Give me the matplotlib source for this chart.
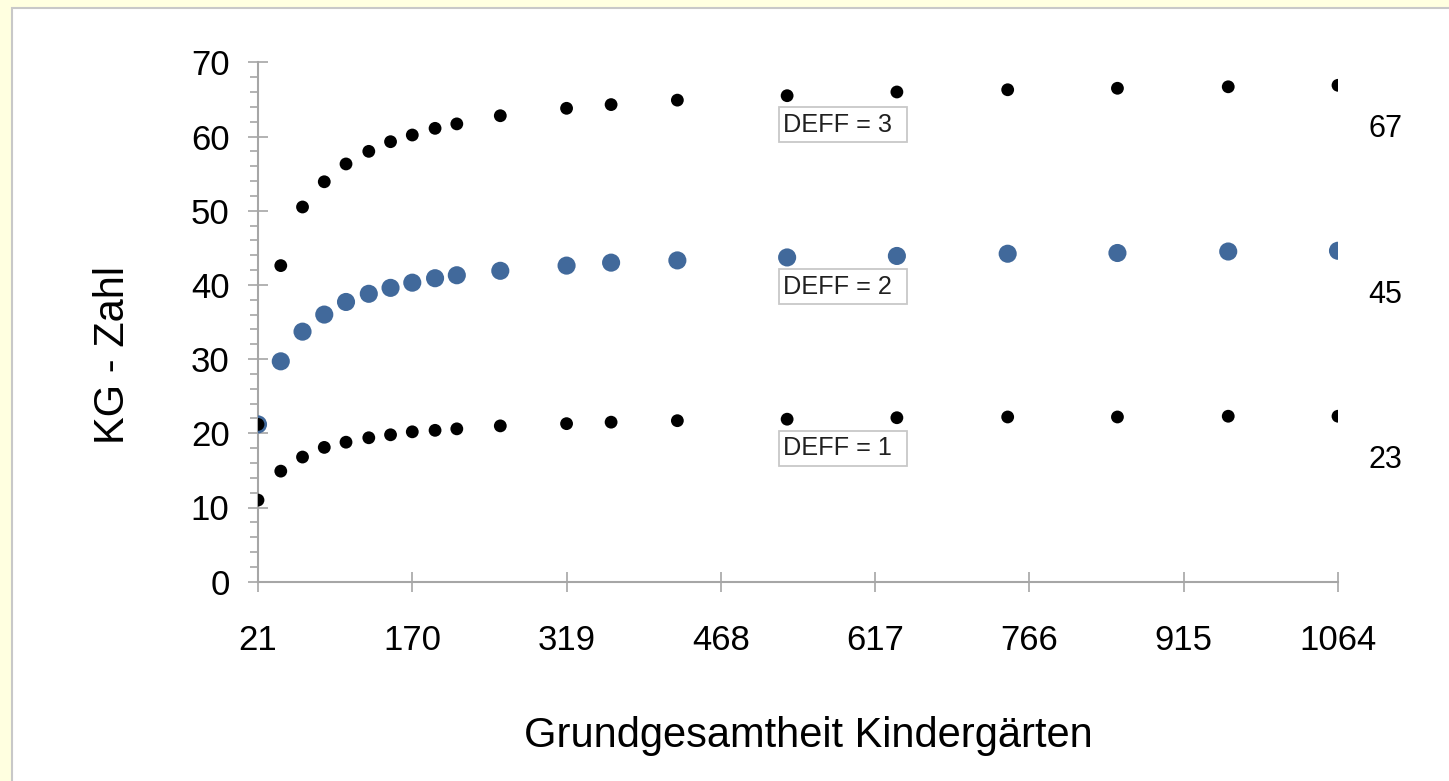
import matplotlib
matplotlib.use("Agg")
import matplotlib.pyplot as plt
from matplotlib.patches import Rectangle
from matplotlib.ticker import MultipleLocator
from matplotlib.transforms import ScaledTranslation

plt.rcParams['font.family'] = ['Liberation Sans', 'DejaVu Sans']

# Grundgesamtheit (x) und KG-Zahl je DEFF
grundgesamtheit = [21, 43, 64, 85, 106, 128, 149, 170, 192, 213,
                   255, 319, 362, 426, 532, 638, 745, 851, 958, 1064]
kg_deff1 = [11.0, 14.9, 16.8, 18.1, 18.8, 19.4, 19.8, 20.2, 20.4, 20.6,
            21.0, 21.3, 21.5, 21.7, 21.9, 22.1, 22.2, 22.2, 22.3, 22.3]
kg_deff2 = [21.2, 29.7, 33.7, 36.0, 37.7, 38.8, 39.6, 40.3, 40.9, 41.3,
            41.9, 42.6, 43.0, 43.3, 43.7, 43.9, 44.2, 44.3, 44.5, 44.6]
kg_deff3 = [21.2, 42.6, 50.5, 53.9, 56.3, 58.0, 59.3, 60.2, 61.1, 61.7,
            62.8, 63.8, 64.3, 64.9, 65.5, 66.0, 66.3, 66.5, 66.7, 66.9]
deff_labels = ['DEFF = 1', 'DEFF = 2', 'DEFF = 3']
end_labels = ['23', '45', '67']
xticks = [21, 170, 319, 468, 617, 766, 915, 1064]

fig = plt.figure(figsize=(14.49, 7.81), dpi=100, facecolor='#ffffe0')
# weisses Diagrammfeld mit grauem Rand
fig.patches.append(Rectangle((12/1449, -0.02), 1.02, 1.02 - 8/781,
                             transform=fig.transFigure, fc='white',
                             ec='#c8c8c8', lw=1.5, zorder=-10))

ax = fig.add_axes([258/1449, 1 - 581.7/781, 1080/1449, 519.4/781])
ax.set_facecolor('none')

series = [(kg_deff1, 'black', 85), (kg_deff2, '#41699b', 170), (kg_deff3, 'black', 85)]
for i, (vals, col, s) in enumerate(series):
    ax.scatter(grundgesamtheit, vals, s=s, color=col, edgecolors='none', zorder=3 + i)
    ax.annotate(end_labels[i], xy=(grundgesamtheit[-1], vals[-1]), xytext=(22, -31.5),
                textcoords='offset points', ha='left', va='center', fontsize=22,
                annotation_clip=False)
    # Beschriftungsfeld unter dem Punkt bei x = 532
    px, py = grundgesamtheit[14], vals[14]
    trans = fig.dpi_scale_trans + ScaledTranslation(px, py, ax.transData)
    ax.add_patch(Rectangle((-5.8/72, -33.6/72), 92.2/72, 25.2/72, transform=trans,
                           fc='white', ec='#c8c8c8', lw=1.3, zorder=6, clip_on=False))
    ax.annotate(deff_labels[i], xy=(px, py), xytext=(-3, -21),
                textcoords='offset points', ha='left', va='center', fontsize=18.2,
                color='#202020', zorder=7)

ax.set_xlim(21, 1064)
ax.set_ylim(0, 70)
ax.set_xticks(xticks)
ax.yaxis.set_major_locator(MultipleLocator(10))
ax.yaxis.set_minor_locator(MultipleLocator(2))

for side in ['top', 'right']:
    ax.spines[side].set_visible(False)
for side in ['left', 'bottom']:
    ax.spines[side].set_color('#a6a6a6')
    ax.spines[side].set_linewidth(1.5)

ax.tick_params(axis='both', which='major', direction='inout', length=15, width=1.2,
               color='#a6a6a6', labelsize=25)
ax.tick_params(axis='x', which='major', pad=23)
ax.tick_params(axis='y', which='major', pad=13)
ax.tick_params(axis='y', which='minor', direction='out', length=6, width=1.2, color='#a6a6a6')

ax.set_xlabel('Grundgesamtheit Kindergärten', fontsize=30)
ax.set_ylabel('KG - Zahl', fontsize=30)
ax.xaxis.set_label_coords(0.51, -0.258)
ax.yaxis.set_label_coords(-0.116, 0.436)

fig.savefig('out.png', dpi=100, facecolor=fig.get_facecolor())
